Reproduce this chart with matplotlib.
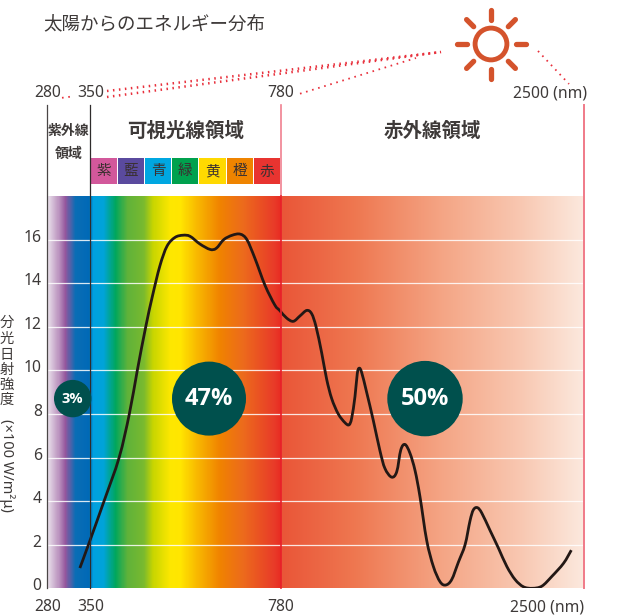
import numpy as np
import matplotlib
matplotlib.use("Agg")
import matplotlib.pyplot as plt
from matplotlib.colors import LinearSegmentedColormap
from matplotlib.patches import Circle, Rectangle, PathPatch
from matplotlib.path import Path
from matplotlib.transforms import ScaledTranslation

plt.rcParams['font.family'] = ['Noto Sans', 'Noto Sans CJK JP', 'DejaVu Sans']

#==== datos ====
# espectro: longitud de onda (nm) e intensidad
wave = [333, 347, 381, 415, 438, 456, 475, 490, 507, 523, 541, 559, 575, 597, 620,
        634, 651, 670, 688, 703, 721, 744, 766, 777, 812, 850, 888, 926, 954, 979,
        1011, 1039, 1068, 1105, 1143, 1166, 1181, 1200, 1213, 1224, 1238, 1266, 1304, 1342, 1370,
        1408, 1437, 1460, 1484, 1512, 1541, 1569, 1607, 1645, 1683, 1715, 1749, 1787, 1825, 1853,
        1872, 1895, 1920, 1967, 2014, 2062, 2109, 2156, 2207, 2261, 2318, 2384, 2428]
intensity = [0.93, 2.0, 4.0, 6.0, 8.0, 10.0, 12.0, 13.4, 14.8, 15.7, 16.1, 16.2, 16.15, 15.8, 15.55,
             15.6, 16.0, 16.2, 16.25, 16.0, 15.15, 13.9, 13.0, 12.75, 12.4, 12.25, 12.5, 12.75, 12.6, 12.0,
             10.8, 9.6, 8.7, 8.0, 7.6, 7.5, 7.8, 8.8, 9.85, 10.1, 9.9, 9.0, 7.7, 6.3, 5.5,
             5.1, 5.35, 6.35, 6.6, 6.2, 5.4, 4.2, 2.2, 1.0, 0.3, 0.15, 0.4, 1.2, 2.0, 3.1,
             3.6, 3.7, 3.45, 2.65, 1.85, 1.0, 0.4, 0.07, 0.0, 0.1, 0.55, 1.15, 1.75]

x_ticks = [280, 350, 780, 2500]
x_labels = ['280', '350', '780', '2500 (nm)']
y_ticks = [0, 2, 4, 6, 8, 10, 12, 14, 16]

bands = ['紫', '藍', '青', '緑', '黄', '橙', '赤']
band_colors = ['#d2589b', '#5a4a9e', '#00a7e1', '#00a14e', '#ffd900', '#ef8400', '#e83430']

shares = ['3%', '47%', '50%']

# colores del fondo (posicion en nm)
stop_nm = [280, 298, 309, 325, 347, 356, 379, 406, 433, 469, 491, 530, 552, 590, 642, 694, 762, 780]
stop_col = ['#e9e0ea', '#bb93bf', '#94569d', '#0a6db5', '#0069b6', '#00a0e0', '#00a3d8', '#00a65c', '#5fb23a',
            '#78b92f', '#c8d500', '#fde700', '#ffe600', '#f8b800', '#f08200', '#ec6a1c', '#e83c28', '#e82a22']
ir_nm = [781, 1200, 1700, 2150, 2500]
ir_col = ['#e95537', '#ee7750', '#f4a585', '#f8c8b2', '#fbe9de']

# eje x por tramos: nm -> posicion
nm_pts = [280, 350, 780, 2500]
px_pts = [47.3, 90.3, 281.0, 584.0]

def forward(v):
    return np.interp(v, nm_pts, px_pts)

def inverse(v):
    return np.interp(v, px_pts, nm_pts)

def suave(xs, ys):
    # curva bezier que pasa por los puntos leidos
    p = np.column_stack([forward(np.array(xs, dtype=float)), ys])
    q = np.vstack([p[0], p, p[-1]])
    verts = [p[0]]
    codes = [Path.MOVETO]
    for i in range(1, len(q)-2):
        c1 = q[i] + (q[i+1]-q[i-1])/6
        c2 = q[i+1] - (q[i+2]-q[i])/6
        verts += [c1, c2, q[i+1]]
        codes += [Path.CURVE4]*3
    verts = np.array(verts)
    verts[:, 0] = inverse(verts[:, 0])
    return Path(verts, codes)

#==== figura ====
fig = plt.figure(figsize=(6.18, 6.15), dpi=100)
ax = fig.add_axes([47.3/618, 1-588.3/615, (584-47.3)/618, (588.3-196)/615])
ax.set_xscale('function', functions=(forward, inverse))
ax.set_xlim(280, 2500)
ax.set_ylim(0, 18)

# fondo degradado
all_nm = stop_nm + ir_nm
all_col = stop_col + ir_col
pos = forward(np.array(all_nm, dtype=float))
pos = (pos-pos[0])/(pos[-1]-pos[0])
cmap = LinearSegmentedColormap.from_list('sol', list(zip(pos, all_col)), N=1024)
edges = inverse(np.linspace(47.3, 584, 538))
tt = (forward(edges[:-1])-47.3)/(584-47.3)
ax.pcolormesh(edges, [0, 18], tt[np.newaxis, :], cmap=cmap, vmin=0, vmax=1, rasterized=True, zorder=0)

for y in y_ticks[1:]:
    ax.axhline(y, color='white', lw=0.9, alpha=0.85, zorder=1)

ax.add_patch(PathPatch(suave(wave, intensity), fc='none', ec='#231815', lw=2.0, capstyle='butt', joinstyle='round', zorder=3))

ax.set_xticks(x_ticks)
ax.set_xticklabels(x_labels)
ax.set_yticks(y_ticks)
ax.minorticks_off()
ax.tick_params(length=0, labelsize=11.3, labelcolor='#3e3a39')
ax.tick_params(axis='x', pad=8)
ax.tick_params(axis='y', pad=4)
ax.get_xticklabels()[-1].set_ha('right')
# los numeros del eje y van un poco sobre la linea
for lab in ax.get_yticklabels():
    lab.set_transform(lab.get_transform() + ScaledTranslation(0, 4/100, fig.dpi_scale_trans))
for s in ax.spines.values():
    s.set_visible(False)

#==== capa en pixeles ====
top = fig.add_axes([0, 0, 1, 1], facecolor='none')
top.set_xlim(0, 618)
top.set_ylim(615, 0)
top.axis('off')

TXT = '#3e3a39'
CJK = ['Noto Sans CJK JP', 'DejaVu Sans']

# verticales
top.plot([47.3, 47.3], [105, 588.3], color='#4a4646', lw=0.9)
top.plot([90.3, 90.3], [105, 588.3], color='#2f2c2c', lw=0.9)
top.plot([281, 281], [105, 196], color='#f08090', lw=1.2)
top.plot([281, 281], [196, 588.3], color='#e8202a', lw=1.2)
top.plot([584, 584], [105, 588.3], color='#f07a88', lw=1.4)

# titulos
top.text(43.5, 24, '太陽からのエネルギー分布', family=CJK, fontsize=13.3, color=TXT, ha='left', va='center')
top.text(186, 131, '可視光線領域', family=CJK, fontsize=14, weight='bold', color=TXT, ha='center', va='center')
top.text(432.5, 131, '赤外線領域', family=CJK, fontsize=14, weight='bold', color=TXT, ha='center', va='center')
top.text(68.5, 131, '紫外線', family=CJK, fontsize=10, weight='bold', color=TXT, ha='center', va='center')
top.text(68.5, 154, '領域', family=CJK, fontsize=10, weight='bold', color=TXT, ha='center', va='center')

# numeros de arriba
for xp, lab, ha in [(47.5, '280', 'center'), (90.3, '350', 'center'), (281, '780', 'center'), (587, '2500 (nm)', 'right')]:
    top.text(xp, 93, lab, fontsize=11.3, color=TXT, ha=ha, va='center')

# cajas de color
w = (281-90.6)/len(bands)
for i, (b, c) in enumerate(zip(bands, band_colors)):
    top.add_patch(Rectangle((90.6+i*w, 158), w-1, 26, fc=c, ec='none'))
    top.text(90.6+i*w+w/2-0.5, 171.5, b, family=CJK, fontsize=10.5, color='#3a3030', ha='center', va='center')

# punteados
ROJO = '#e8303c'
dots = (0, (0.6, 1.8))
top.plot([107, 441], [91, 52], color=ROJO, lw=1.8, ls=dots)
top.plot([107, 441], [97, 52], color=ROJO, lw=1.8, ls=dots)
top.plot([300, 416], [93.7, 58], color=ROJO, lw=1.3, ls=(0, (0.9, 2.6)))
top.plot([62, 72], [97.8, 96.5], color=ROJO, lw=1.3, ls=(0, (0.9, 2.6)))
top.plot([538, 569], [51, 84], color=ROJO, lw=1.3, ls=(0, (0.9, 2.6)))

# sol
SOL = '#d4532c'
cx, cy = 491, 44
top.add_patch(Circle((cx, cy), 15.9, fc='none', ec=SOL, lw=3.5))
for a in np.arange(0, 360, 45):
    ca, sa = np.cos(np.radians(a)), np.sin(np.radians(a))
    top.plot([cx+24.5*ca, cx+34.5*ca], [cy+24.5*sa, cy+34.5*sa], color=SOL, lw=3.8, solid_capstyle='round')

# circulos de porcentaje
VERDE = '#00504d'
for (xc, r, fs), lab in zip([(72.7, 18.7, 10.5), (209, 37, 17), (425, 37.7, 17)], shares):
    top.add_patch(Circle((xc, 398.6), r, fc=VERDE, ec='none', zorder=5))
    top.text(xc, 398.6, lab, family='Open Sans', color='white', fontsize=fs, weight='bold', ha='center', va='center', zorder=6)

# etiqueta eje y
for ch, yp in zip('分光日射強度', [323, 339, 355, 370, 385, 400]):
    top.text(7, yp, ch, family=CJK, fontsize=10.3, color=TXT, ha='center', va='center')
top.text(7, 465, '(×100 W/m²μ)', fontsize=10.5, color=TXT, rotation=270, ha='center', va='center')

fig.savefig('out.png', dpi=100)
